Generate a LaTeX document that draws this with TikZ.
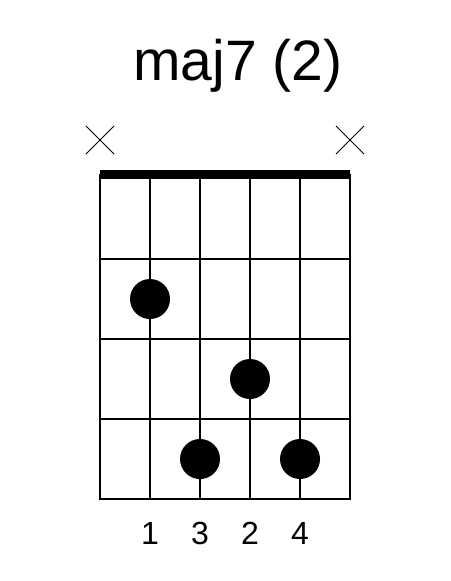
\documentclass[tikz,border=0pt]{standalone}
\usepackage{fontspec}
\setmainfont{Liberation Sans}
\begin{document}
\begin{tikzpicture}[x=1pt,y=-1pt,
  gridline/.style={line width=2pt,line cap=rect},
  fingerdot/.style={circle,fill=black,minimum size=40pt,inner sep=0pt},
  mutemark/.style={line width=1pt},
  fingerlabel/.style={font=\fontsize{32}{32}\selectfont,anchor=base},
  titlelabel/.style={font=\fontsize{57}{57}\selectfont,anchor=base}]
\useasboundingbox (0,0) rectangle (450,581);
\node[titlelabel] (title) at (238,80) {maj7 (2)};
% nut
\fill (100,170) rectangle (350,179);
% strings
\foreach \i/\x in {1/100,2/150,3/200,4/250,5/300,6/350}
  \draw[gridline] (\x,175) -- (\x,499);
% frets
\foreach \y in {259,339,419,499}
  \draw[gridline] (100,\y) -- (350,\y);
% muted strings
\draw[mutemark] (86,126) -- (114,154) (86,154) -- (114,126);
\draw[mutemark] (336,126) -- (364,154) (336,154) -- (364,126);
% dots
\node[fingerdot] (d1) at (150,299) {};
\node[fingerdot] (d2) at (250,379) {};
\node[fingerdot] (d3) at (200,459) {};
\node[fingerdot] (d4) at (300,459) {};
% finger numbers
\node[fingerlabel] (f1) at (150,544) {1};
\node[fingerlabel] (f2) at (200,544) {3};
\node[fingerlabel] (f3) at (250,544) {2};
\node[fingerlabel] (f4) at (300,544) {4};
\end{tikzpicture}
\end{document}
